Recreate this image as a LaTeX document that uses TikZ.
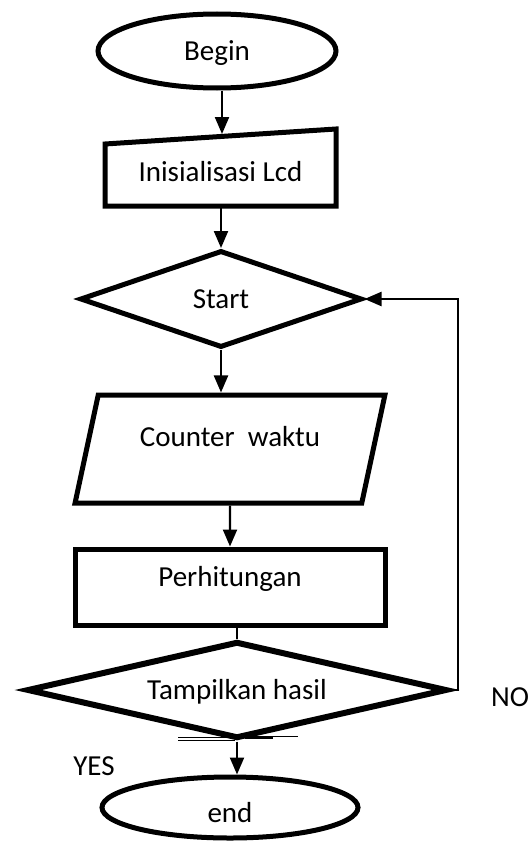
\documentclass[tikz,border=0pt]{standalone}
\usepackage{fontspec}
\setmainfont{Carlito}
\usepackage{tikz}
\usetikzlibrary{calc,
                shapes.geometric,
                arrows.meta
                }

\begin{document}
\begin{tikzpicture}[x=1pt, y=-1pt,
    font=\fontsize{29}{34}\selectfont,
    every node/.append style={text height=20pt, text depth=2pt},
    rand/.style={draw, line width=5pt, inner sep=0pt},
    pfeil/.style={-{Triangle[length=17pt, width=14pt]}, line width=2.2pt},
    linie/.style={line width=2.2pt}
    ]
    % Rahmen des Bildes
    \fill[white] (0,0) rectangle (528,843);
    \useasboundingbox (0,0) rectangle (528,843);

    % Anfang
    \node[rand, ellipse, minimum width=238, minimum height=74] (begin) at (217,51) {Begin};

    % Initialisierung, Kasten mit schraeger Oberkante
    \node[inner sep=0pt, outer sep=0pt, minimum width=231, minimum height=62, text depth=7pt] (init) at (220.5,175) {Inisialisasi Lcd};
    \draw[line width=5pt] (init.south west) -- (init.south east)
        -- ($(init.north east)+(0,-15)$) -- (init.north west) -- cycle;
    \coordinate (initTop) at ($(init.north)+(1.5,-10)$);

    % Start-Raute
    \node[rand, diamond, aspect=3, minimum width=282, minimum height=97] (start) at (221,299) {Start};

    % Zaehler
    \node[rand, trapezium, trapezium left angle=71, trapezium right angle=109,
        trapezium stretches=true, minimum width=310, minimum height=108,
        text depth=26pt] (counter) at (230,449) {Counter\ \ waktu};

    % Berechnung
    \node[rand, rectangle, minimum width=310, minimum height=76, text depth=21pt] (calc) at (230,587) {Perhitungan};

    % Anzeige-Raute
    \node[rand, diamond, aspect=4.3, line width=6pt, minimum width=420, minimum height=97] (check) at (237,690) {Tampilkan hasil};

    % Ende
    \node[rand, ellipse, minimum width=256, minimum height=61, text height=31pt, text depth=1pt] (stop) at (230,807.5) {end};

    % Pfeile
    \draw[pfeil] (begin.south -| initTop) -- (initTop);
    \draw[pfeil] (init.south -| start.north) -- (start.north);
    \draw[pfeil] (start.south) -- (start.south |- counter.north);
    \draw[pfeil] (counter.south) -- (calc.north);
    \draw[linie] (check.north |- calc.south) -- (check.north);
    \draw[pfeil] (check.south) -- (check.south |- stop.north);

    % Rueckfuehrung
    \draw[pfeil] (check.east) -- ++(8,0) |- (start.east);

    % Beschriftungen
    \node (ja) at (94,766) {YES};
    \node (nein) at (510,697) {NO};

    % Stoerlinien unter der Raute
    \draw[line width=1pt] (178,737) -- (235,737) (178,740) -- (235,740);
    \draw[line width=1pt] (235,736) -- (298,736);
    \draw[line width=3pt] (245,737) -- (273,737);
\end{tikzpicture}
\end{document}
